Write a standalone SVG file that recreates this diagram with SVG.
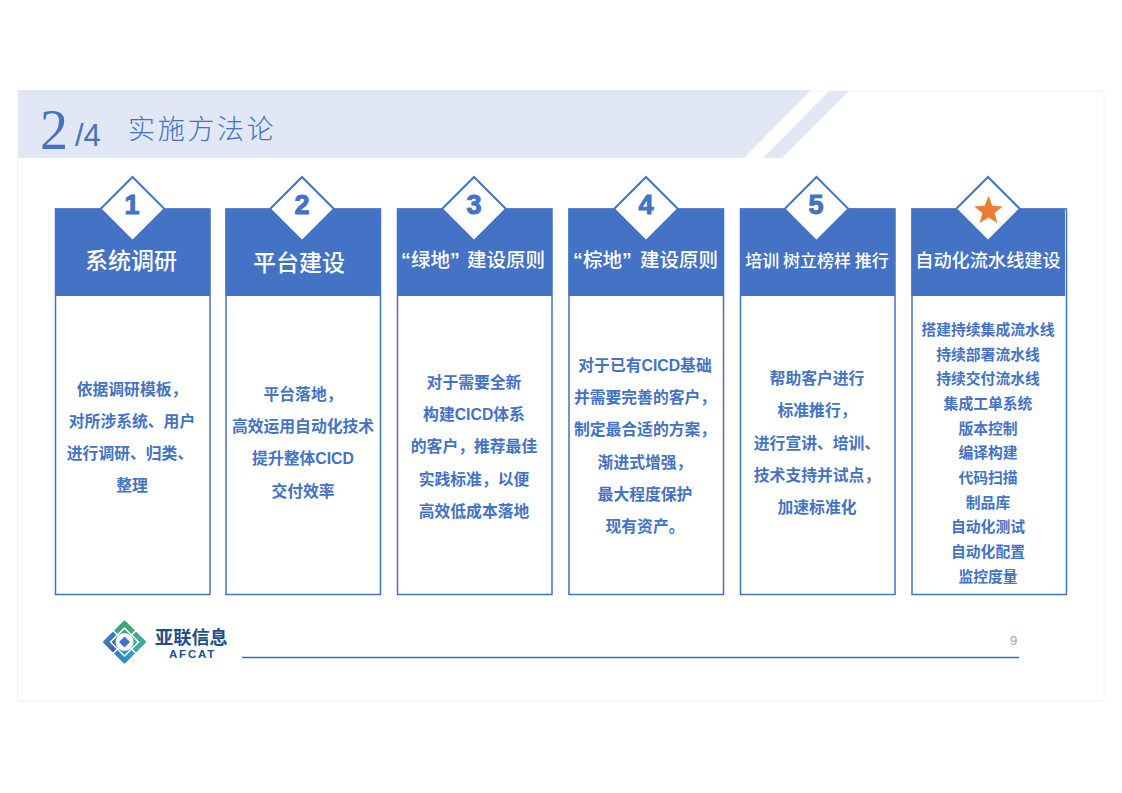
<svg xmlns="http://www.w3.org/2000/svg" width="1122" height="793" viewBox="0 0 1122 793">
<defs>
<linearGradient id="lgL" x1="0" y1="0" x2="1" y2="1"><stop offset="0" stop-color="#3f8fc4"/><stop offset="1" stop-color="#3a55a8"/></linearGradient>
<linearGradient id="lgT" x1="0" y1="0" x2="1" y2="0"><stop offset="0" stop-color="#3f9f8c"/><stop offset="1" stop-color="#4aa878"/></linearGradient>
<linearGradient id="lgR" x1="0" y1="0" x2="0" y2="1"><stop offset="0" stop-color="#4aa88a"/><stop offset="1" stop-color="#3fa8b0"/></linearGradient>
<linearGradient id="lgB" x1="0" y1="0" x2="1" y2="0"><stop offset="0" stop-color="#2f80c8"/><stop offset="1" stop-color="#34a0c0"/></linearGradient>
<polygon id="dia" points="0,-32 32,0 0,32 -32,0" fill="#fff" stroke="#4472c4" stroke-width="2"/>
</defs>
<style>
text{font-family:"Liberation Sans","Noto Sans CJK SC",sans-serif}
.head{fill:#4472c4}
.box{fill:#fff;stroke:#4472c4;stroke-width:1.500}
.t{fill:#fff;font-weight:500;text-anchor:middle;font-family:"Noto Sans CJK SC",sans-serif}
.ts{fill:#fff;font-weight:500;font-size:19.500px;font-family:"Noto Sans CJK SC",sans-serif}
.q{font-family:"Liberation Sans",sans-serif;font-weight:bold}
.b{fill:#4472c4;font-size:15.800px;font-weight:bold;text-anchor:middle;font-family:"Liberation Sans","Noto Sans CJK SC",sans-serif}
.c{fill:#4472c4;font-size:14.800px;font-weight:bold;text-anchor:middle;font-family:"Noto Sans CJK SC",sans-serif}
.n{fill:#4472c4;stroke:#4472c4;stroke-width:1;font-size:27px;font-weight:bold;text-anchor:middle}
</style>
<rect x="0" y="0" width="1122" height="793" fill="#fff"/>
<rect x="18" y="91" width="1086" height="610" fill="#fff" stroke="#f1f2f4" stroke-width="1"/>
<g id="banner">
<polygon points="18,91 810,91 744,158 18,158" fill="#e1e7f4"/>
<polygon points="829,91 849,91 782,158 763,158" fill="#e1e7f4"/>
<line x1="18" y1="91" x2="810" y2="91" stroke="#cfd9ea" stroke-width="1"/>
<text x="40" y="149" font-size="56" fill="#4472c4" style="font-family:'Liberation Serif','Noto Sans CJK SC',serif">2</text>
<text x="75" y="146" font-size="31" fill="#4472c4">/4</text>
<text x="128" y="139" font-size="27" letter-spacing="2.700" fill="#4472c4" style="font-family:'Noto Sans CJK SC',serif;font-weight:300">实施方法论</text>
</g>
<g id="card1"><rect class="box" x="55.500" y="209" width="154.500" height="385.500"/><rect class="head" x="55" y="208.500" width="155" height="87.500"/><use href="#dia" x="132.500" y="209"/><text class="n" x="132" y="214">1</text><text class="t" x="131" y="269" font-size="23">系统调研</text>
<text class="b" x="132" y="395">依据调研模板，</text><text class="b" x="132" y="427">对所涉系统、用户</text><text class="b" x="130" y="459">进行调研、归类、</text><text class="b" x="132" y="491">整理</text></g>
<g id="card2"><rect class="box" x="226" y="209" width="154.500" height="385.500"/><rect class="head" x="225.500" y="208.500" width="155" height="87.500"/><use href="#dia" x="302" y="209"/><text class="n" x="302" y="214">2</text><text class="t" x="299" y="271" font-size="23">平台建设</text>
<text class="b" x="303" y="400">平台落地，</text><text class="b" x="303" y="432">高效运用自动化技术</text><text class="b" x="303" y="464">提升整体CICD</text><text class="b" x="303" y="497">交付效率</text></g>
<g id="card3"><rect class="box" x="397.500" y="209" width="154.500" height="385.500"/><rect class="head" x="397" y="208.500" width="155" height="87.500"/><use href="#dia" x="474" y="209"/><text class="n" x="474" y="214">3</text><text class="ts" y="267"><tspan class="q" x="401">“</tspan><tspan x="411">绿地</tspan><tspan class="q" x="450">”</tspan><tspan x="467">建设原则</tspan></text>
<text class="b" x="474" y="388">对于需要全新</text><text class="b" x="474" y="420">构建CICD体系</text><text class="b" x="474" y="452">的客户，推荐最佳</text><text class="b" x="474" y="485">实践标准，以便</text><text class="b" x="474" y="517">高效低成本落地</text></g>
<g id="card4"><rect class="box" x="569" y="209" width="154.500" height="385.500"/><rect class="head" x="568.500" y="208.500" width="155" height="87.500"/><use href="#dia" x="646" y="209"/><text class="n" x="646" y="214">4</text><text class="ts" y="267"><tspan class="q" x="573">“</tspan><tspan x="583">棕地</tspan><tspan class="q" x="622">”</tspan><tspan x="640">建设原则</tspan></text>
<text class="b" x="645" y="371">对于已有CICD基础</text><text class="b" x="645" y="403">并需要完善的客户，</text><text class="b" x="645" y="435">制定最合适的方案，</text><text class="b" x="645" y="468">渐进式增强，</text><text class="b" x="645" y="500">最大程度保护</text><text class="b" x="645" y="532">现有资产。</text></g>
<g id="card5"><rect class="box" x="740.500" y="209" width="154.500" height="385.500"/><rect class="head" x="740" y="208.500" width="155" height="87.500"/><use href="#dia" x="816.500" y="209"/><text class="n" x="816" y="214">5</text><text class="t" x="817" y="267" font-size="17">培训 树立榜样 推行</text>
<text class="b" x="817" y="384">帮助客户进行</text><text class="b" x="817" y="416">标准推行，</text><text class="b" x="817" y="449">进行宣讲、培训、</text><text class="b" x="817" y="481">技术支持并试点，</text><text class="b" x="817" y="513">加速标准化</text></g>
<g id="card6"><rect class="box" x="912" y="209" width="154.500" height="385.500"/><rect class="head" x="911.500" y="208.500" width="153.500" height="87.500"/><use href="#dia" x="988" y="209"/><polygon points="988.500,196 992.300,205.700 1002.800,206.400 994.700,213 997.300,223.100 988.500,217.500 979.700,223.100 982.300,213 974.200,206.400 984.700,205.700" fill="#ed7d31"/><text class="t" x="988" y="267" font-size="18.200">自动化流水线建设</text>
<text class="c" x="988" y="335">搭建持续集成流水线</text><text class="c" x="988" y="360">持续部署流水线</text><text class="c" x="988" y="384">持续交付流水线</text><text class="c" x="988" y="409">集成工单系统</text><text class="c" x="988" y="434">版本控制</text><text class="c" x="988" y="458">编译构建</text><text class="c" x="988" y="483">代码扫描</text><text class="c" x="988" y="508">制品库</text><text class="c" x="988" y="532">自动化测试</text><text class="c" x="988" y="557">自动化配置</text><text class="c" x="988" y="582">监控度量</text></g>
<g id="footer">
<g id="logo" transform="translate(124.500 642)">
<g stroke-linejoin="round" stroke-width="3">
<polygon points="-20,0 -11,-9 -4,-2 -4,2 -11,9" fill="url(#lgL)" stroke="url(#lgL)"/>
<polygon points="20,0 11,-9 4,-2 4,2 11,9" fill="url(#lgR)" stroke="url(#lgR)"/>
<polygon points="0,-20 -9,-11 0,-4 9,-11" fill="url(#lgT)" stroke="url(#lgT)"/>
<polygon points="0,20 -9,11 0,4 9,11" fill="url(#lgB)" stroke="url(#lgB)"/>
</g>
<polygon points="0,-14 14,0 0,14 -14,0" fill="none" stroke="#fff" stroke-width="1.500"/>
<path d="M-7,-7L-12,-12M7,-7L12,-12M-7,7L-12,12M7,7L12,12" stroke="#fff" stroke-width="1.500"/>
<circle r="9" fill="#fff"/>
<polygon points="0,-5.500 5.500,0 0,5.500 -5.500,0" fill="#4472c4"/>
</g>
<text x="155" y="644" font-size="18.200" font-weight="bold" fill="#1f4e8c">亚联信息</text>
<text x="169" y="658" font-size="11.500" font-weight="bold" letter-spacing="1.800" fill="#1f4e8c">AFCAT</text>
<line x1="242" y1="657.500" x2="1019" y2="657.500" stroke="#2e75b6" stroke-width="1.500"/>
<text x="1010" y="645" font-size="13" fill="#9aa3b0">9</text>
</g>
</svg>
